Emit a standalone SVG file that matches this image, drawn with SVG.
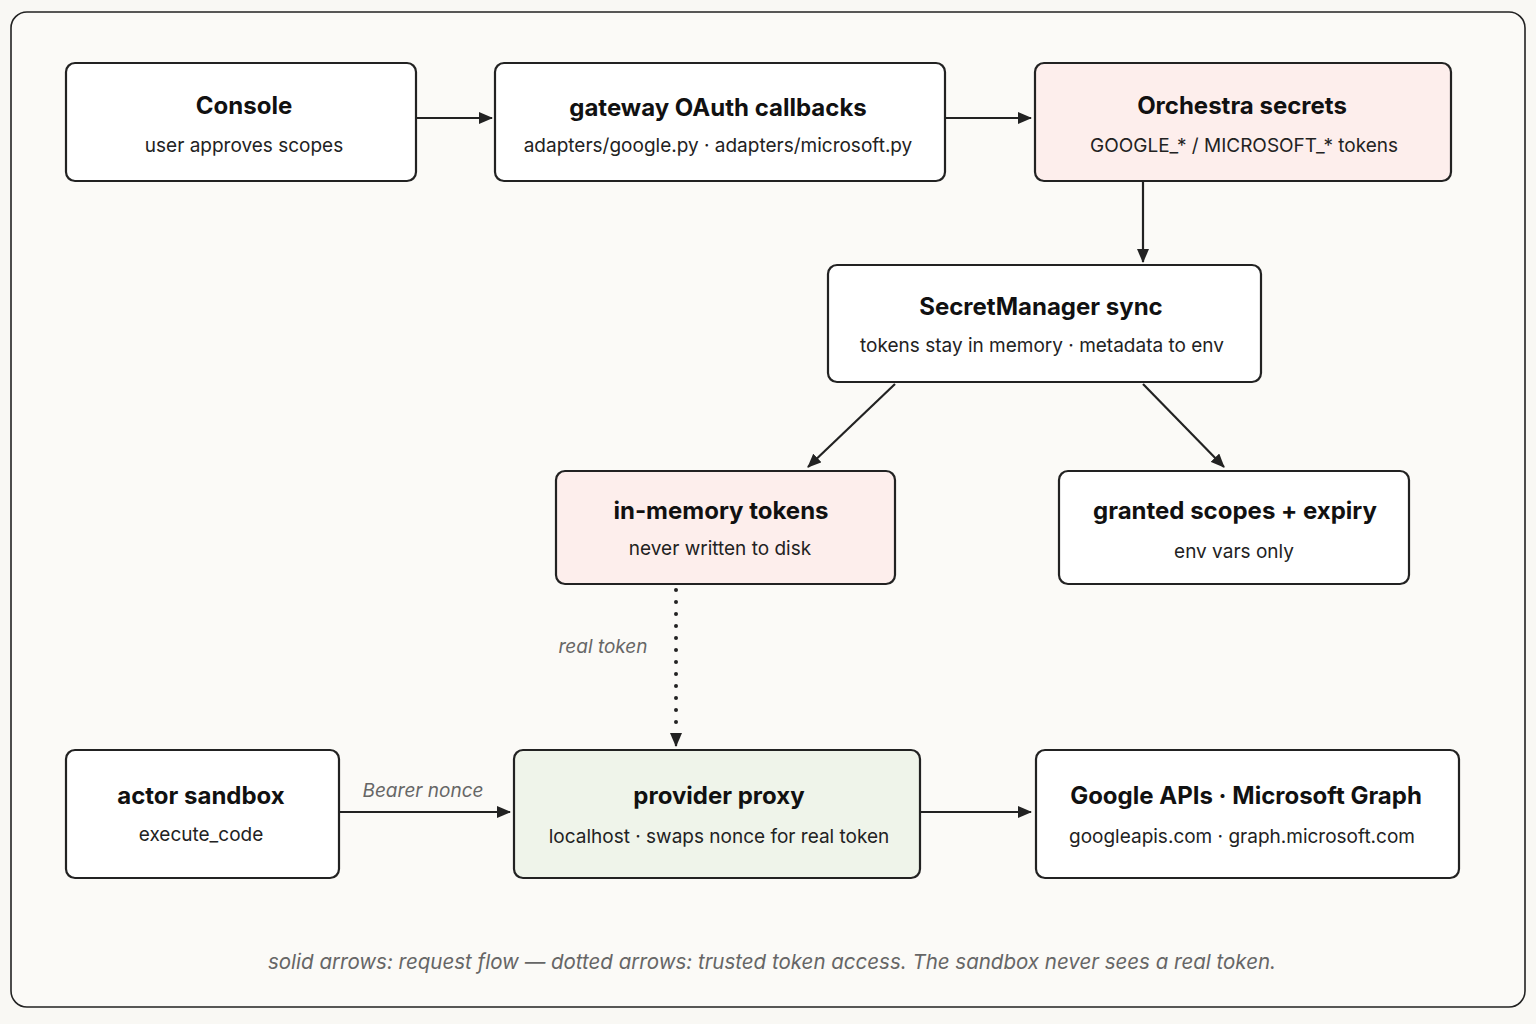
<svg xmlns="http://www.w3.org/2000/svg" width="1536" height="1024" viewBox="0 0 1536 1024">
<defs>
<marker id="ah" viewBox="0 0 14 12" refX="13" refY="6" markerWidth="14" markerHeight="12" orient="auto" markerUnits="userSpaceOnUse">
<path d="M0,0 L14,6 L0,12 z" fill="#222"/>
</marker>
<style>
.box{fill:#fff;stroke:#222;stroke-width:2.2}
.pink{fill:#fdeeec}
.green{fill:#eff4ea}
.t{font-family:Inter,"Liberation Sans",sans-serif;font-weight:700;font-size:24px;fill:#111;text-anchor:middle}
.s{font-family:Inter,"Liberation Sans",sans-serif;font-size:19px;fill:#222;text-anchor:middle}
.c{stroke:#222;stroke-width:2.2;fill:none;marker-end:url(#ah)}
.d{stroke:#222;stroke-width:4;fill:none;stroke-dasharray:0 12;stroke-linecap:round}
.lbl{font-family:Inter,"Liberation Sans",sans-serif;font-style:italic;font-size:19px;fill:#666;text-anchor:middle}
</style>
</defs>
<rect x="0" y="0" width="1536" height="1024" fill="#f9f8f4"/>
<rect x="11" y="12" width="1514" height="995" rx="16" fill="#fbfaf7" stroke="#222" stroke-width="1.6"/>

<g id="connectors">
<line class="c" x1="416" y1="118" x2="492" y2="118"/>
<line class="c" x1="945" y1="118" x2="1031" y2="118"/>
<line class="c" x1="1143" y1="181" x2="1143" y2="262"/>
<line class="c" x1="895" y1="384" x2="808" y2="467"/>
<line class="c" x1="1143" y1="384" x2="1224" y2="467"/>
<line class="d" x1="676" y1="590" x2="676" y2="727"/>
<line class="c" x1="676" y1="733" x2="676" y2="746" stroke-width="2"/>
<line class="c" x1="339" y1="812" x2="510" y2="812"/>
<line class="c" x1="920" y1="812" x2="1031" y2="812"/>
<text class="lbl" x="603" y="653">real token</text>
<text class="lbl" x="423" y="797">Bearer nonce</text>
</g>

<g id="console">
<rect class="box" x="66" y="63" width="350" height="118" rx="9"/>
<text class="t" x="244" y="114">Console</text>
<text class="s" x="244" y="152">user approves scopes</text>
</g>
<g id="gateway">
<rect class="box" x="495" y="63" width="450" height="118" rx="9"/>
<text class="t" x="718" y="116">gateway OAuth callbacks</text>
<text class="s" x="718" y="152">adapters/google.py · adapters/microsoft.py</text>
</g>
<g id="orchestra">
<rect class="box pink" x="1035" y="63" width="416" height="118" rx="9"/>
<text class="t" x="1242" y="114">Orchestra secrets</text>
<text class="s" x="1244" y="152">GOOGLE_* / MICROSOFT_* tokens</text>
</g>
<g id="secretmanager">
<rect class="box" x="828" y="265" width="433" height="117" rx="9"/>
<text class="t" x="1041" y="315">SecretManager sync</text>
<text class="s" x="1042" y="352">tokens stay in memory · metadata to env</text>
</g>
<g id="inmemory">
<rect class="box pink" x="556" y="471" width="339" height="113" rx="9"/>
<text class="t" x="721" y="519">in-memory tokens</text>
<text class="s" x="720" y="555">never written to disk</text>
</g>
<g id="granted">
<rect class="box" x="1059" y="471" width="350" height="113" rx="9"/>
<text class="t" x="1235" y="519">granted scopes + expiry</text>
<text class="s" x="1234" y="558">env vars only</text>
</g>
<g id="actor">
<rect class="box" x="66" y="750" width="273" height="128" rx="9"/>
<text class="t" x="201" y="804">actor sandbox</text>
<text class="s" x="201" y="841">execute_code</text>
</g>
<g id="proxy">
<rect class="box green" x="514" y="750" width="406" height="128" rx="9"/>
<text class="t" x="719" y="804">provider proxy</text>
<text class="s" x="719" y="843">localhost · swaps nonce for real token</text>
</g>
<g id="google">
<rect class="box" x="1036" y="750" width="423" height="128" rx="9"/>
<text class="t" x="1246" y="804">Google APIs · Microsoft Graph</text>
<text class="s" x="1242" y="843">googleapis.com · graph.microsoft.com</text>
</g>

<text class="lbl" x="772" y="969" style="font-size:20.5px">solid arrows: request flow — dotted arrows: trusted token access. The sandbox never sees a real token.</text>
</svg>
